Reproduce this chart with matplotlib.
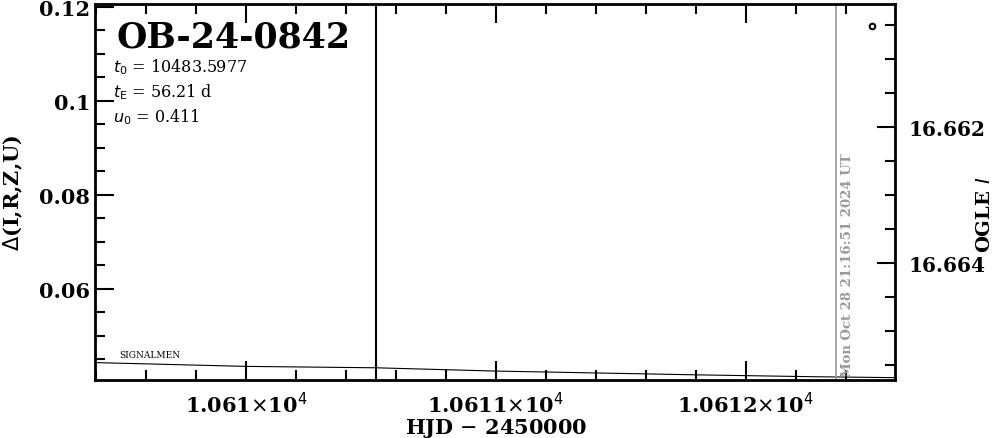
import matplotlib
matplotlib.use('Agg')
import matplotlib.pyplot as plt
from matplotlib.ticker import MultipleLocator, FixedLocator

plt.rcParams['font.family'] = 'DejaVu Serif'

# model curve (HJD-2450000, delta)
model_t = [10609.40, 10610.00, 10610.52, 10611.00, 10611.80, 10612.27, 10612.60]
model_d = [0.0443, 0.0435, 0.0432, 0.0425, 0.0417, 0.0413, 0.0411]

# OGLE point
ogle_t = [10612.504]
ogle_I = [16.66051]

event = 'OB-24-0842'
params = [r'$t_0$ = 10483.5977', r'$t_{\rm E}$ = 56.21 d', r'$u_0$ = 0.411']
t_line = 10610.52
now_line = 10612.36
now_text = 'Mon Oct 28 21:16:51 2024 UT'

fig = plt.figure(figsize=(9.99, 4.39), dpi=100)
ax = fig.add_axes([0.0951, 0.1321, 0.8008, 0.8565])

ax.plot(model_t, model_d, color='k', lw=0.8)
ax.axvline(t_line, color='k', lw=1.5)
ax.axvline(now_line, color='#999999', lw=1.2)

ax.set_xlim(10609.396, 10612.596)
ax.set_ylim(0.0406, 0.1206)

ax.xaxis.set_major_locator(FixedLocator([10610, 10611, 10612]))
ax.set_xticklabels([r'1.061$\times$10$^4$', r'1.0611$\times$10$^4$', r'1.0612$\times$10$^4$'])
ax.xaxis.set_minor_locator(MultipleLocator(0.2))
ax.yaxis.set_major_locator(MultipleLocator(0.02))
ax.yaxis.set_minor_locator(MultipleLocator(0.005))
ax.set_yticks([0.06, 0.08, 0.1, 0.12])
ax.set_yticklabels(['0.06', '0.08', '0.1', '0.12'])

ax.tick_params(which='both', direction='in', top=True, right=False, labelsize=15)
ax.tick_params(axis='x', which='both', pad=8)
ax.tick_params(which='major', length=14, width=1.5)
ax.tick_params(which='minor', length=7, width=1.5)
for lab in ax.get_xticklabels() + ax.get_yticklabels():
    lab.set_fontweight('bold')
for s in ax.spines.values():
    s.set_linewidth(2)

fig.text(0.4965, 0.025, 'HJD $-$ 2450000', fontsize=15, fontweight='bold',
         ha='center', va='center')
ax.set_ylabel(r'$\Delta$(I,R,Z,U)', fontsize=15, fontweight='bold', labelpad=10)

ax2 = ax.twinx()
ax2.plot(ogle_t, ogle_I, 'o', mfc='none', mec='k', ms=4, mew=1.5)
ax2.set_ylim(16.66572, 16.66019)
ax2.yaxis.set_major_locator(FixedLocator([16.662, 16.664]))
ax2.set_yticklabels(['16.662', '16.664'])
ax2.yaxis.set_minor_locator(MultipleLocator(0.0005))
ax2.tick_params(which='both', direction='in', labelsize=14.5, pad=10)
ax2.tick_params(which='major', length=13, width=1.5)
ax2.tick_params(which='minor', length=7, width=1.5)
for lab in ax2.get_yticklabels():
    lab.set_fontweight('bold')
fig.text(0.986, 0.51, r'OGLE $I$', rotation=90, fontsize=14, fontweight='bold',
         ha='center', va='center')

ax.text(0.027, 0.96, event, transform=ax.transAxes, fontsize=25, fontweight='bold',
        va='top', ha='left')
for i, p in enumerate(params):
    ax.text(0.022, 0.86 - i * 0.066, p, transform=ax.transAxes, fontsize=11.5,
            va='top', ha='left')
ax.text(0.03, 0.055, 'SIGNALMEN', transform=ax.transAxes, fontsize=6.5, va='bottom', ha='left')
ax.text(now_line + 0.02, 0.0415, now_text, rotation=90, color='#999999', fontsize=9.5,
        fontweight='bold', va='bottom', ha='left')

fig.savefig('out.png', dpi=100)
